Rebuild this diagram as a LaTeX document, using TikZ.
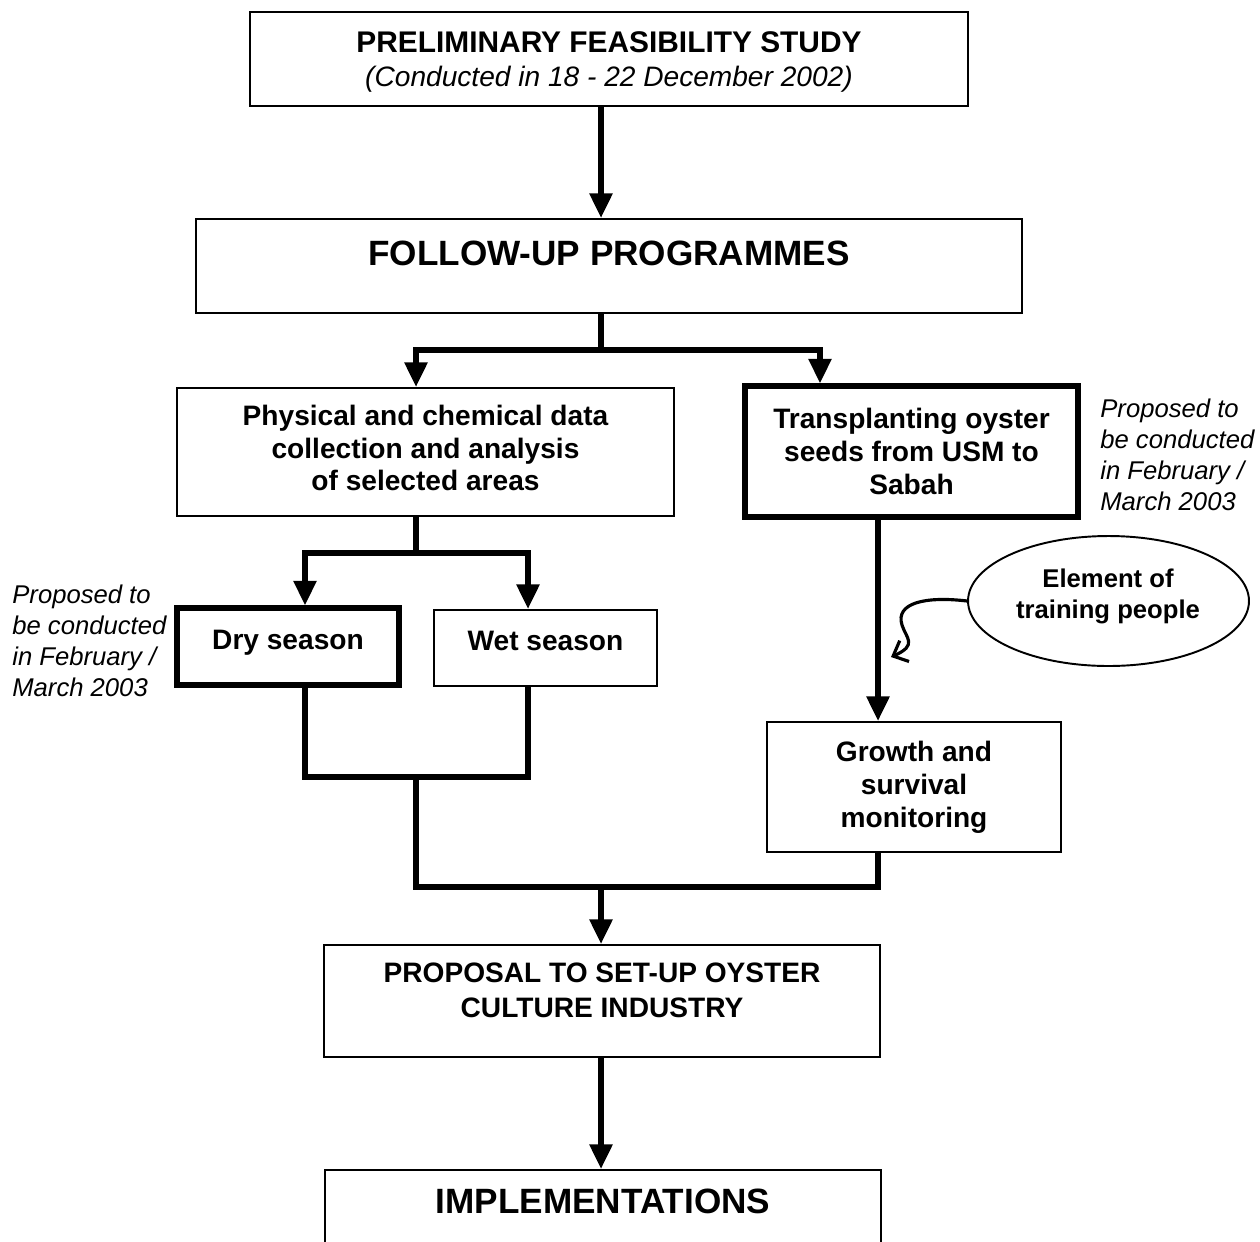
\documentclass[tikz,border=0pt]{standalone}
\usepackage{fontspec}
\setmainfont{Liberation Sans}
\usetikzlibrary{arrows.meta,shapes.geometric}
\newcommand\fsz[2]{\fontsize{#1}{#2}\selectfont}
\begin{document}
\begin{tikzpicture}[x=0.02cm,y=-0.02cm,
  thinbox/.style={draw, line width=1.1pt, rectangle, inner sep=0pt, align=center, font=\bfseries\fsz{16}{18.7}},
  thickbox/.style={thinbox, line width=2.9pt},
  txt/.style={inner sep=0pt, align=center},
  conn/.style={line width=3.2pt, line join=miter, line cap=butt},
  arr/.style={conn, -{Triangle[length=14pt,width=12.5pt]}},
  side/.style={align=left, font=\itshape\fsz{14.6}{17.6}, inner sep=0pt, anchor=west}]
\clip (0,0) rectangle (1260,1241);
\fill[white] (0,0) rectangle (1260,1241);
% boxes
\node[thinbox, minimum width=14.36cm, minimum height=1.88cm] (prelim) at (609,59) {};
\node[txt, font=\bfseries\fsz{17}{19.3}] (prelimt) at (609,62)
  {PRELIMINARY FEASIBILITY STUDY\\{\mdseries\itshape\fsz{16}{19.3}(Conducted in 18 - 22 December 2002)}};
\node[thinbox, minimum width=16.52cm, minimum height=1.88cm] (fu) at (609,266) {};
\node[txt, font=\bfseries\fsz{20}{24}] (fut) at (609,253) {FOLLOW-UP PROGRAMMES};
\node[thinbox, minimum width=9.94cm, minimum height=2.56cm] (phys) at (425.5,452) {};
\node[txt, font=\bfseries\fsz{16}{18.7}] (physt) at (425.5,448)
  {Physical and chemical data\\collection and analysis\\of selected areas};
\node[thickbox, minimum width=6.66cm, minimum height=2.62cm] (trans) at (911.5,451.5)
  {Transplanting oyster\\seeds from USM to\\Sabah};
\node[thickbox, minimum width=4.44cm, minimum height=1.54cm] (dry) at (288,646.5)
  {\raisebox{2pt}[\height][\depth]{Dry season}};
\node[thinbox, minimum width=4.46cm, minimum height=1.52cm] (wet) at (545.5,648)
  {\raisebox{4pt}[\height][\depth]{Wet season}};
\node[draw, ellipse, line width=1.1pt, minimum width=5.62cm, minimum height=2.6cm, inner sep=0pt] (ell) at (1108.5,601) {};
\node[txt, font=\bfseries\fsz{14.6}{17.6}] (ellt) at (1108,596) {Element of\\training people};
\node[thinbox, minimum width=5.88cm, minimum height=2.6cm] (growth) at (914,787)
  {Growth and\\survival\\monitoring};
\node[thinbox, minimum width=11.12cm, minimum height=2.24cm] (prop) at (602,1001) {};
\node[txt, font=\bfseries\fsz{16}{19.8}] (propt) at (602,990) {PROPOSAL TO SET-UP OYSTER\\CULTURE INDUSTRY};
\node[thinbox, minimum width=11.12cm, minimum height=1.8cm] (impl) at (603,1215) {};
\node[txt, font=\bfseries\fsz{20}{24}] (implt) at (603,1201) {IMPLEMENTATIONS};
% side notes
\node[side] (noteR) at (1100,455) {Proposed to\\be conducted\\in February /\\March 2003};
\node[side] (noteL) at (12,641) {Proposed to\\be conducted\\in February /\\March 2003};
% coordinates
\coordinate (xa) at (601,0);
\coordinate (xb) at (416,0);
\coordinate (xc) at (820,0);
\coordinate (xd) at (305,0);
\coordinate (xe) at (528,0);
\coordinate (xf) at (878,0);
\coordinate (j1) at (601,350);
\coordinate (j2) at (416,553);
\coordinate (bl3) at (305,777);
\coordinate (br3) at (528,777);
\coordinate (j3) at (416,777);
\coordinate (j4) at (416,887);
\coordinate (j5) at (878,887);
\coordinate (j6) at (601,887);
% connectors
\draw[arr] (prelim.south -| xa) -- (fu.north -| xa);
\draw[conn] (fu.south -| xa) -- (j1);
\draw[arr] (j1) -| (phys.north -| xb);
\draw[arr] (j1) -| (trans.north -| xc);
\draw[conn] (phys.south -| xb) -- (j2);
\draw[arr] (j2) -| (dry.north -| xd);
\draw[arr] (j2) -| (wet.north -| xe);
\draw[conn] (dry.south -| xd) -- (bl3) -- (br3) -- (wet.south -| xe);
\draw[conn] (j3) -- (j4) -- (j5) -- (growth.south -| xf);
\draw[arr] (j6) -- (prop.north -| xa);
\draw[arr] (trans.south -| xf) -- (growth.north -| xf);
\draw[arr] (prop.south -| xa) -- (impl.north -| xa);
\draw[line width=1.8pt, line cap=round, -{Straight Barb[length=7pt,width=13pt]}] (ell.west)
  .. controls (925,596) and (895,603) .. (902,625)
  .. controls (906,638) and (918,645) .. (891,657);
\end{tikzpicture}
\end{document}
